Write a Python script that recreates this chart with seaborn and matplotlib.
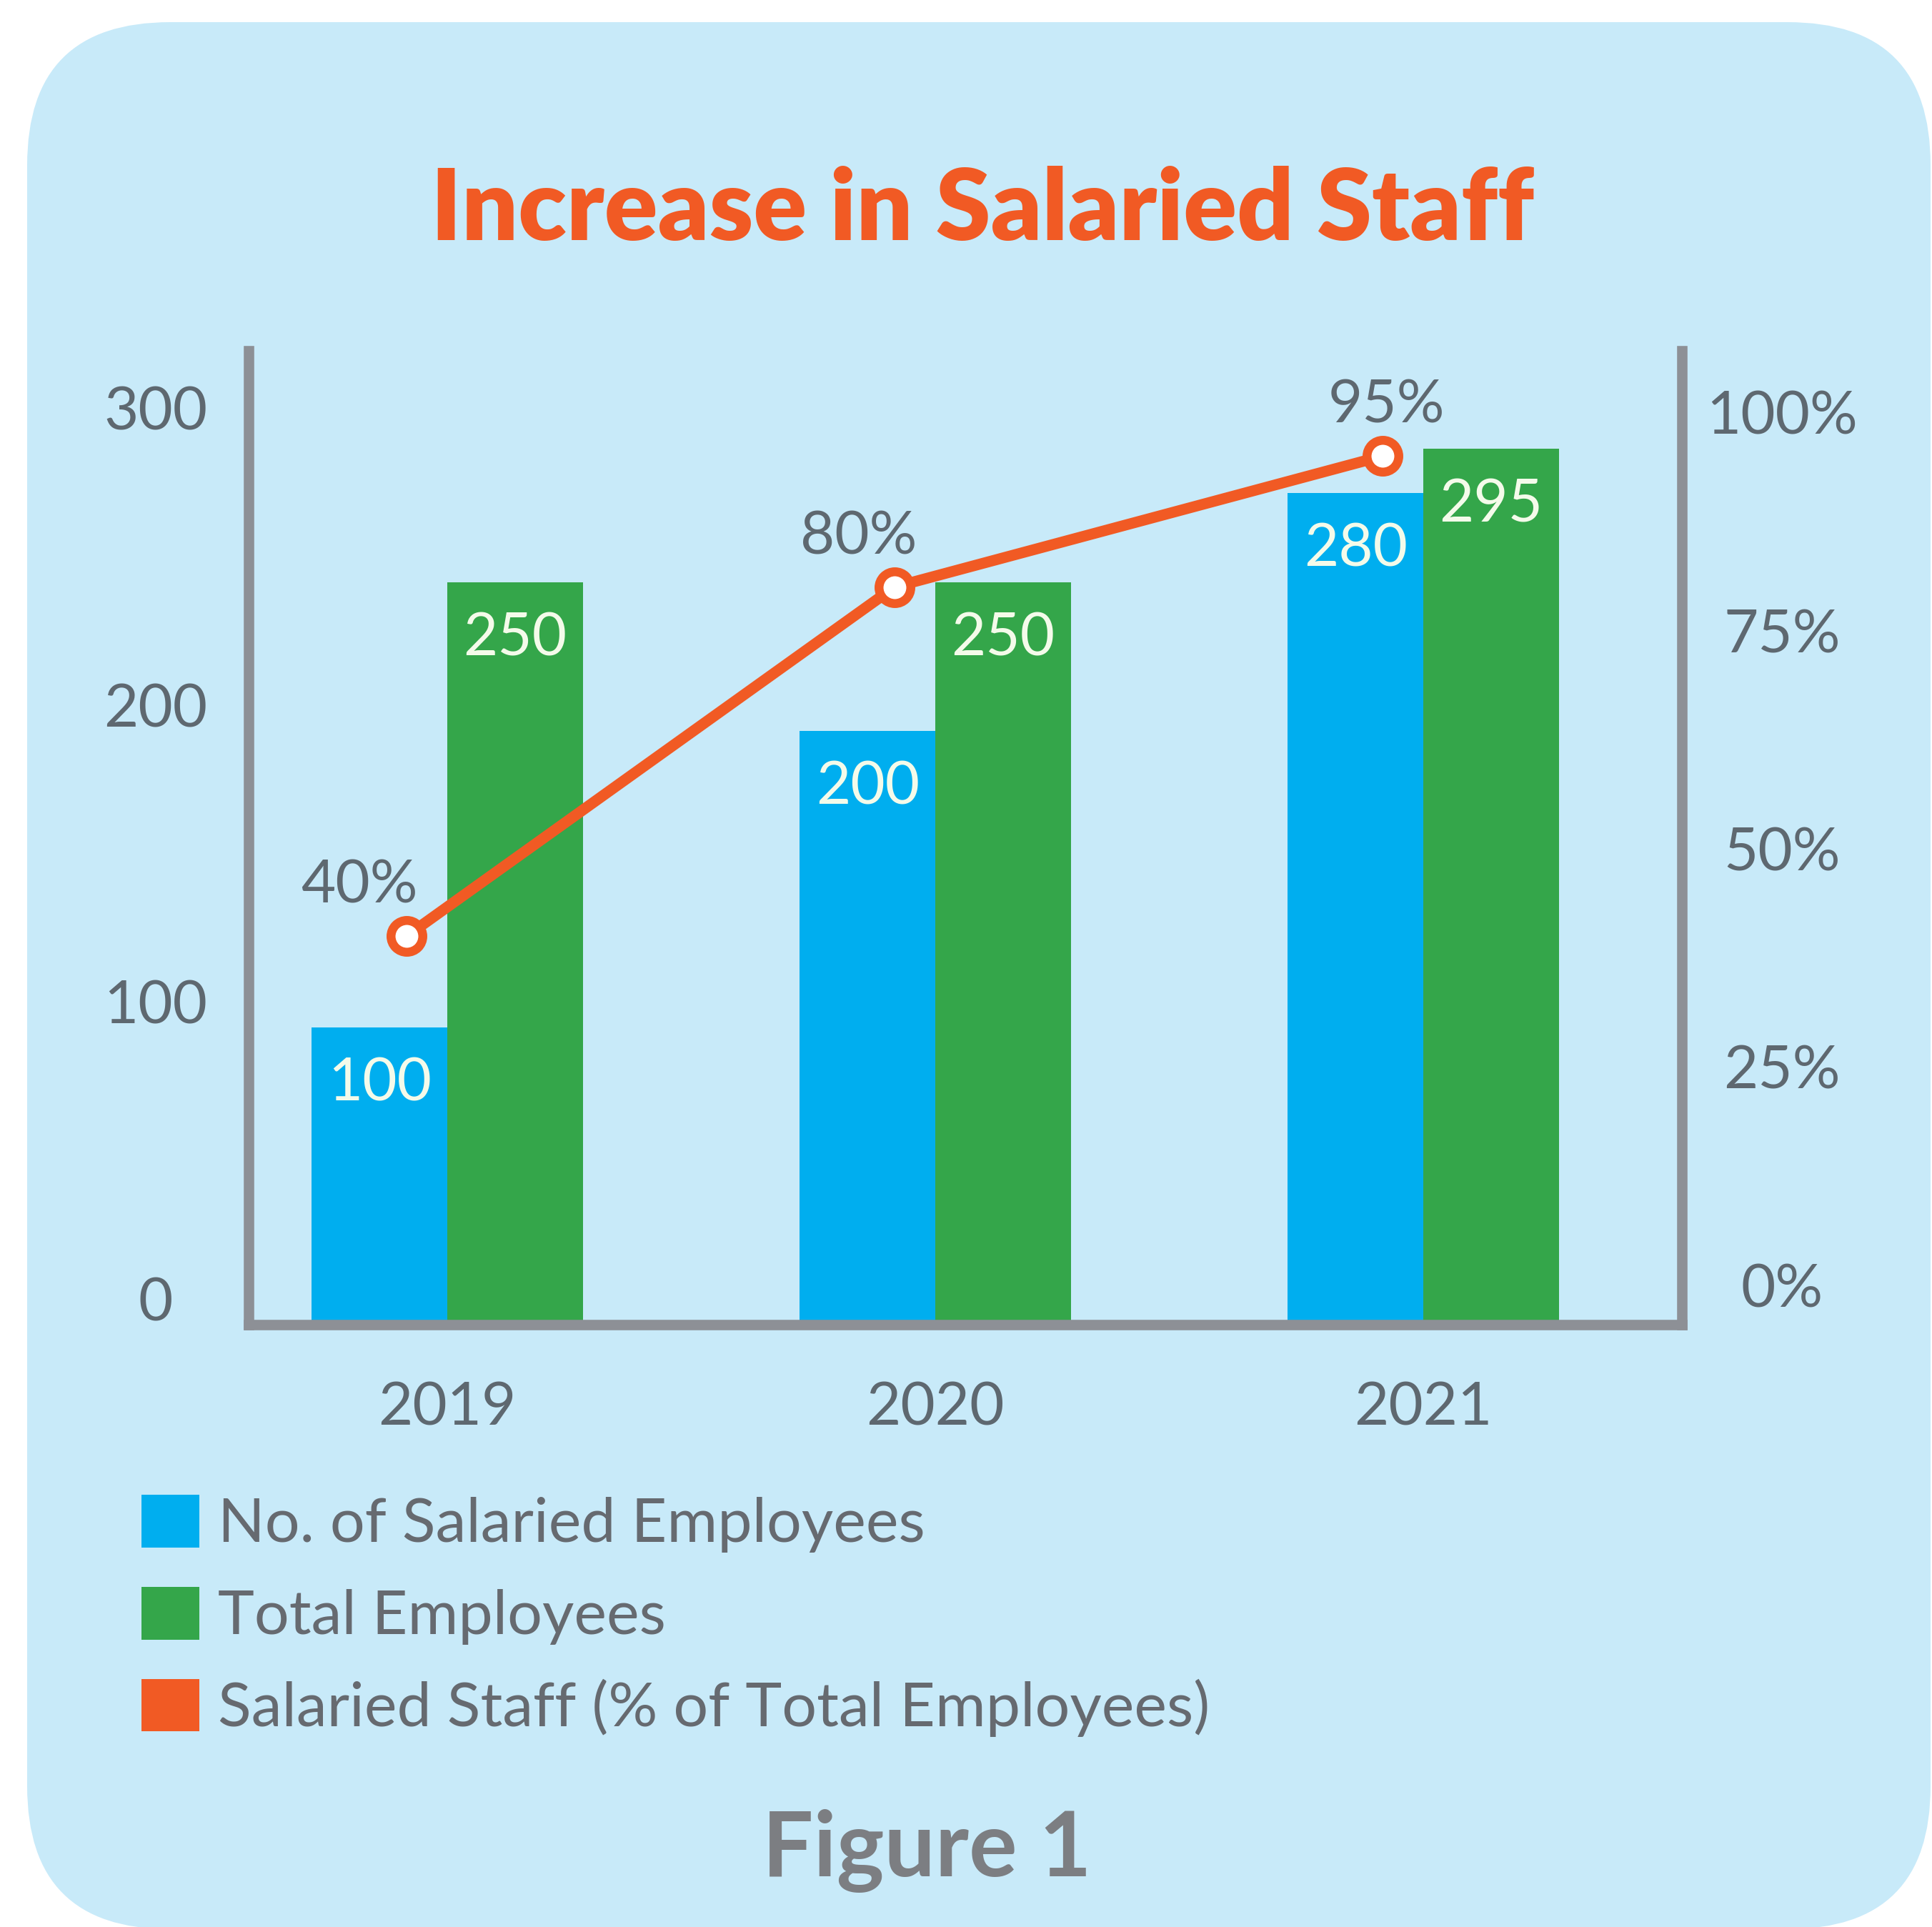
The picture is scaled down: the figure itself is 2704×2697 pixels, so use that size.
import numpy as np
import pandas as pd
import matplotlib
matplotlib.use("Agg")
import matplotlib.pyplot as plt
import matplotlib.transforms as mtransforms
from matplotlib.patches import FancyBboxPatch, Patch
import seaborn as sns

# ---- data -------------------------------------------------------------
years = ["2019", "2020", "2021"]
salaried = [100, 200, 280]
total = [250, 250, 295]
salaried_pct = [40, 80, 95]

series_names = ["No. of Salaried Employees", "Total Employees",
                "Salaried Staff (% of Total Employees)"]
left_ticks = [0, 100, 200, 300]
right_ticks = [0, 25, 50, 75, 100]

# ---- style ------------------------------------------------------------
BLUE = "#00AEEF"
GREEN = "#34A64A"
ORANGE = "#F15A24"
PANEL = "#C8EAF9"
AXIS_GREY = "#8D9096"
TEXT_GREY = "#5E6870"
LEGEND_GREY = "#666A70"
FIG_GREY = "#7C7E82"
BAR_TEXT = "#F4FBEA"

sns.set_theme(style="white")
plt.rcParams["font.family"] = ["Lato", "DejaVu Sans"]

W, H, DPI = 2704, 2697, 100
fig = plt.figure(figsize=(W / DPI, H / DPI), dpi=DPI, facecolor="white")

# rounded light-blue panel behind everything
panel = FancyBboxPatch((38, -3), 2664, 2669,
                       boxstyle="round,pad=0,rounding_size=200",
                       transform=mtransforms.IdentityTransform(),
                       facecolor=PANEL, edgecolor="none", zorder=-10)
fig.add_artist(panel)

ax = fig.add_axes([348 / W, 1 - 1854 / H, (2354 - 348) / W, (1854 - 491) / H])
ax.set_facecolor("none")

df = pd.DataFrame({
    "year": years * 2,
    "series": [series_names[0]] * 3 + [series_names[1]] * 3,
    "value": salaried + total,
})
sns.barplot(data=df, x="year", y="value", hue="series",
            hue_order=series_names[:2], palette=[BLUE, GREEN],
            width=0.555, gap=0, linewidth=0, saturation=1,
            legend=False, ax=ax)

ax.set_xlim(-0.407, 2.530)
ax.set_ylim(0, 328)
ax.set_xlabel("")
ax.set_ylabel("")

# value labels inside the bar tops
for container, vals in zip(ax.containers, [salaried, total]):
    for bar, v in zip(container.patches, vals):
        ax.annotate(f"{v}", (bar.get_x() + bar.get_width() / 2, bar.get_height()),
                    xytext=(0, -57), textcoords="offset points",
                    ha="center", va="center", fontsize=60, color=BAR_TEXT)

# spines
for side in ["top", "right"]:
    ax.spines[side].set_visible(False)
for side in ["left", "bottom"]:
    ax.spines[side].set_color(AXIS_GREY)
    ax.spines[side].set_linewidth(10.5)

ax.set_yticks(left_ticks)
ax.set_yticklabels([str(t) for t in left_ticks])
ax.tick_params(axis="y", length=0, pad=94, labelsize=60, labelcolor=TEXT_GREY)
ax.tick_params(axis="x", length=0, pad=57, labelsize=60, labelcolor=TEXT_GREY)
lift = mtransforms.ScaledTranslation(0, 26 / 72, fig.dpi_scale_trans)
for tick in ax.yaxis.get_major_ticks():
    tick.label1.set_horizontalalignment("center")
    tick.label1.set_transform(tick.label1.get_transform() + lift)

# percentage line on a secondary axis, nudged left within each year group
ax2 = ax.twinx()
ax2.set_facecolor("none")
sns.lineplot(x=np.arange(len(years)), y=salaried_pct, ax=ax2, color=ORANGE,
             linewidth=11, marker="o", markersize=32, markerfacecolor="white",
             markeredgecolor=ORANGE, markeredgewidth=9, zorder=5)
NUDGE_PT = -41
nudge = mtransforms.ScaledTranslation(NUDGE_PT / 72, 0, fig.dpi_scale_trans)
for line in ax2.lines:
    line.set_transform(line.get_transform() + nudge)
ax2.set_ylim(-4.52, 107.06)
ax2.set_xlim(-0.407, 2.530)
ax2.set_yticks(right_ticks)
ax2.set_yticklabels([f"{t}%" for t in right_ticks])
ax2.tick_params(axis="y", length=0, pad=101, labelsize=60, labelcolor=TEXT_GREY)
for tick in ax2.yaxis.get_major_ticks():
    tick.label2.set_horizontalalignment("center")
for side in ["top", "left", "bottom"]:
    ax2.spines[side].set_visible(False)
ax2.spines["right"].set_color(AXIS_GREY)
ax2.spines["right"].set_linewidth(10.5)
ax2.set_ylabel("")

pct_dx = [-48, -36, 4]
for i, p in enumerate(salaried_pct):
    ax2.annotate(f"{p}%", (i, p), xytext=(pct_dx[i] + NUDGE_PT, 50),
                 textcoords="offset points", ha="center", va="center",
                 fontsize=60, color=TEXT_GREY)

# title and caption
fig.text(1375 / W, 1 - 336 / H, "Increase in Salaried Staff", ha="center",
         va="baseline", fontsize=100, fontweight="heavy", color=ORANGE)
fig.text(1297 / W, 1 - 2626 / H, "Figure 1", ha="center", va="baseline",
         fontsize=91, fontweight="bold", color=FIG_GREY)

# legend
handles = [Patch(facecolor=c, edgecolor="none") for c in [BLUE, GREEN, ORANGE]]
fig.legend(handles, series_names, loc="upper left",
           bbox_to_anchor=(198 / W, 1 - 2092 / H), bbox_transform=fig.transFigure,
           frameon=False, fontsize=62, labelcolor=LEGEND_GREY,
           handlelength=0.94, handleheight=0.94, handletextpad=0.3,
           labelspacing=0.55, borderpad=0, borderaxespad=0)

fig.savefig("out.png", dpi=DPI, facecolor="white")
